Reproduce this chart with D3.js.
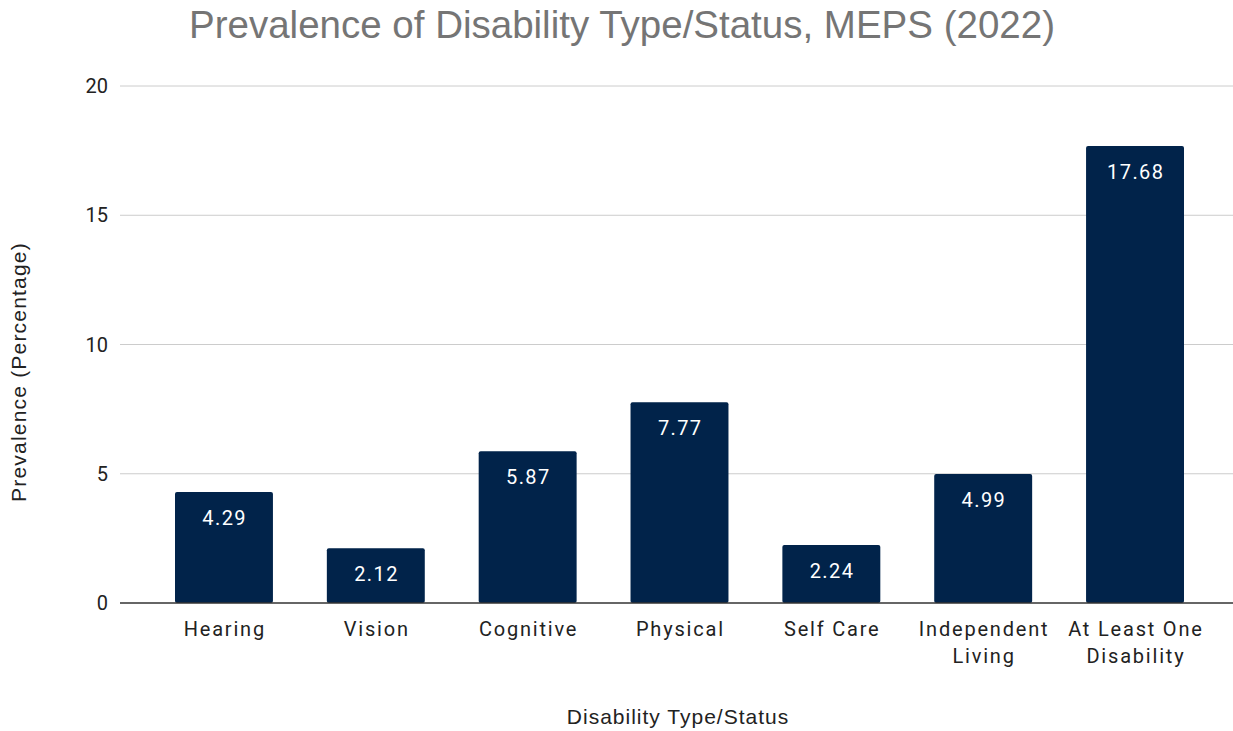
<!DOCTYPE html>
<html lang="en">
<head>
    <meta charset="UTF-8">
    <title>Prevalence of Disability Type/Status, MEPS (2022)</title>
    <script src="https://d3js.org/d3.v7.min.js"></script>
    <style>
        body { margin: 0; background: #fff; }
        svg { display: block; }
    </style>
</head>
<body>
    <div id="chart"></div>
    <script>
        // data
        const categories = ['Hearing', 'Vision', 'Cognitive', 'Physical', 'Self Care', 'Independent Living', 'At Least One Disability'];
        const labelLines = [['Hearing'], ['Vision'], ['Cognitive'], ['Physical'], ['Self Care'], ['Independent', 'Living'], ['At Least One', 'Disability']];
        const values = [4.29, 2.12, 5.87, 7.77, 2.24, 4.99, 17.68];
        const yTicks = [0, 5, 10, 15, 20];

        const width = 1233, height = 731;
        const svg = d3.select('#chart').append('svg')
            .attr('width', width)
            .attr('height', height);

        const x = d3.scaleBand()
            .domain(categories)
            .range([175, 1184])
            .paddingInner(0.355)
            .paddingOuter(0);

        const y = d3.scaleLinear()
            .domain([0, 20])
            .range([603, 86]);

        const gridLeft = 120, gridRight = 1233;

        // title
        svg.append('text')
            .attr('x', 622)
            .attr('y', 38)
            .attr('text-anchor', 'middle')
            .style('font-family', 'Liberation Sans, Arial, sans-serif')
            .style('font-size', '38.5px')
            .style('fill', '#757575')
            .text('Prevalence of Disability Type/Status, MEPS (2022)');

        // gridlines
        svg.append('g')
            .selectAll('line')
            .data(yTicks.filter(d => d !== 0))
            .enter()
            .append('line')
            .attr('x1', gridLeft)
            .attr('x2', gridRight)
            .attr('y1', d => y(d))
            .attr('y2', d => y(d))
            .style('stroke', '#cccccc')
            .style('stroke-width', 1);

        // y tick labels
        svg.append('g')
            .selectAll('text')
            .data(yTicks)
            .enter()
            .append('text')
            .attr('x', 108)
            .attr('y', d => y(d))
            .attr('dy', '0.36em')
            .attr('text-anchor', 'end')
            .style('font-family', 'Roboto, sans-serif')
            .style('font-size', '20px')
            .style('fill', '#222')
            .text(d => d);

        // bars
        svg.append('g')
            .selectAll('rect')
            .data(values)
            .enter()
            .append('rect')
            .attr('x', (d, i) => x(categories[i]))
            .attr('y', d => y(d))
            .attr('width', x.bandwidth())
            .attr('height', d => y(0) - y(d))
            .attr('rx', 2)
            .style('fill', '#01234a');

        // value labels
        svg.append('g')
            .selectAll('text')
            .data(values)
            .enter()
            .append('text')
            .attr('x', (d, i) => x(categories[i]) + x.bandwidth() / 2 + 0.7)
            .attr('y', d => y(d) + 33)
            .attr('text-anchor', 'middle')
            .style('font-family', 'Roboto, sans-serif')
            .style('font-size', '20px')
            .style('letter-spacing', '1.4px')
            .style('fill', '#ffffff')
            .text(d => d.toFixed(2));

        // baseline
        svg.append('line')
            .attr('x1', gridLeft)
            .attr('x2', gridRight)
            .attr('y1', y(0))
            .attr('y2', y(0))
            .style('stroke', '#333')
            .style('stroke-width', 1.5);

        // category labels
        const catLabels = svg.append('g')
            .selectAll('text')
            .data(categories)
            .enter()
            .append('text')
            .attr('y', 636)
            .attr('text-anchor', 'middle')
            .style('font-family', 'Roboto, sans-serif')
            .style('font-size', '20px')
            .style('letter-spacing', '1.8px')
            .style('fill', '#222');

        catLabels.each(function (d, i) {
            const t = d3.select(this);
            labelLines[i].forEach((line, j) => {
                t.append('tspan')
                    .attr('x', x(d) + x.bandwidth() / 2 + 0.9)
                    .attr('dy', j === 0 ? 0 : 27)
                    .text(line);
            });
        });

        // axis titles
        svg.append('text')
            .attr('x', 678)
            .attr('y', 724)
            .attr('text-anchor', 'middle')
            .style('font-family', 'Liberation Sans, Arial, sans-serif')
            .style('font-size', '21px')
            .style('letter-spacing', '1px')
            .style('fill', '#222')
            .text('Disability Type/Status');

        svg.append('text')
            .attr('transform', 'translate(26,372) rotate(-90)')
            .attr('text-anchor', 'middle')
            .style('font-family', 'Liberation Sans, Arial, sans-serif')
            .style('font-size', '21px')
            .style('letter-spacing', '1.2px')
            .style('fill', '#222')
            .text('Prevalence (Percentage)');
    </script>
</body>
</html>
